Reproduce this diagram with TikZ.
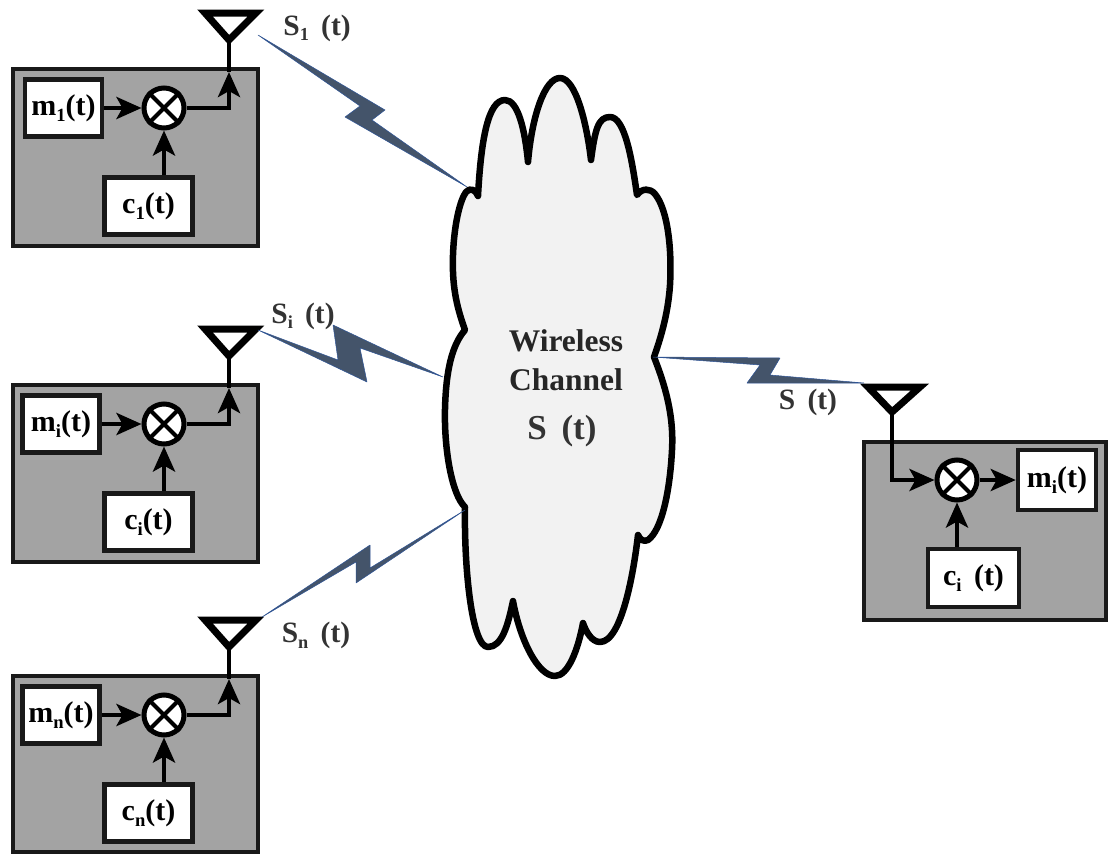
\documentclass[tikz,border=0pt]{standalone}
\usepackage{graphicx}
\usepackage{fontspec}
\setmainfont{Liberation Serif}
\usetikzlibrary{arrows.meta}
\definecolor{panel}{HTML}{A3A3A3}
\definecolor{cloudfill}{HTML}{F2F2F2}
\definecolor{bolt}{HTML}{44546A}
\definecolor{boltedge}{HTML}{2F5597}
\newcommand{\lowidx}[1]{\raisebox{-.2em}{\scalebox{.62}{#1}}}
\newcommand{\txt}{\fontsize{30}{32}\selectfont\bfseries}
\newcommand{\lbl}{\fontsize{29.5}{32}\selectfont\bfseries}
\tikzset{
  panelbox/.style={draw=black!90,line width=4.5pt,fill=panel},
  whitebox/.style={draw=black!90,line width=4.5pt,fill=white,inner sep=0pt,font=\txt},
  mixer/.style={circle,draw=black,line width=5pt,fill=white,minimum size=40pt,inner sep=0pt},
  wire/.style={draw=black,line width=4.5pt},
  arrowwire/.style={wire,-{Stealth[length=25pt,width=22pt,inset=6pt]}},
  antenna/.style={draw=black,line width=7pt,line join=miter,fill=white},
  boltshape/.style={fill=bolt,draw=boltedge,line width=.5pt,line join=round},
  cloudshape/.style={draw=black,line width=6.5pt,fill=cloudfill,line join=round},
  tag/.style={font=\lbl,inner sep=0pt,text=black!80}
}
\newcommand{\txblock}[6]{% prefix, dy, mleft, mlabel, clabel, height
\begin{scope}[shift={(0,#2)}]
  \draw[panelbox] (13,69) rectangle (258,#6);
  \node[whitebox,minimum width=77pt,minimum height=57pt] (#1m) at (#3,108) {#4};
  \node[whitebox,minimum width=88pt,minimum height=57pt] (#1c) at (148.5,206) {#5};
  \node[mixer] (#1x) at (164,108) {};
  \draw[line width=4pt] (#1x.45) -- (#1x.225) (#1x.135) -- (#1x.315);
  \coordinate (#1tip) at (229,72);
  \coordinate (#1apex) at (229,40);
  \coordinate (#1l) at (205,13);
  \coordinate (#1r) at (256,13);
  \draw[arrowwire] (#1m.east) -- (#1x.west);
  \draw[arrowwire] (#1c.north -| #1x) -- (#1x.south);
  \draw[arrowwire] (#1x.east) -| (#1tip);
  \draw[wire] (#1tip) -- (#1apex);
  \draw[antenna] (#1l) -- (#1r) -- (#1apex) -- cycle;
  \coordinate (#1out) at (258,35);
\end{scope}}
\begin{document}
\begin{tikzpicture}[x=1pt,y=-1pt]
\useasboundingbox (0,0) rectangle (1109,854);
\fill[white] (0,0) rectangle (1109,854);

% cloud
\draw[cloudshape]
  (478,196)
  .. controls (481,140) and (488,100) .. (505,100)
  .. controls (518,100) and (525,130) .. (528,162)
  .. controls (532,115) and (545,78) .. (560,78)
  .. controls (576,78) and (587,125) .. (591,160)
  .. controls (595,130) and (598,117) .. (610,117)
  .. controls (625,117) and (632,160) .. (637,195)
  .. controls (642,188) and (650,188) .. (655,194)
  .. controls (668,210) and (672,250) .. (670,285)
  .. controls (668,315) and (660,340) .. (654,357)
  .. controls (665,385) and (674,415) .. (672,450)
  .. controls (670,490) and (662,530) .. (648,540)
  .. controls (644,542) and (640,540) .. (638,535)
  .. controls (634,570) and (622,642) .. (600,642)
  .. controls (592,642) and (586,632) .. (583,623)
  .. controls (578,650) and (568,676) .. (555,676)
  .. controls (538,676) and (520,640) .. (513,601)
  .. controls (508,625) and (502,647) .. (488,647)
  .. controls (472,647) and (464,570) .. (465,507)
  .. controls (452,495) and (444,450) .. (445,409)
  .. controls (446,370) and (452,345) .. (465,330)
  .. controls (456,305) and (452,285) .. (453,255)
  .. controls (454,225) and (460,200) .. (466,192)
  .. controls (470,187) and (476,190) .. (478,196)
  -- cycle;
\node[inner sep=0pt,font=\fontsize{31.5}{33}\selectfont\bfseries,text=black!85] (wl) at (566,341) {Wireless};
\node[inner sep=0pt,font=\fontsize{31.5}{33}\selectfont\bfseries,text=black!85] (ch) at (566,380) {Channel};
\node[inner sep=0pt,font=\fontsize{35}{37}\selectfont\bfseries,text=black!80] (st) at (562,431) {S\, (t)};
\coordinate (cl1) at (467,187);
\coordinate (cl2) at (443,377);
\coordinate (cl3) at (465,510);
\coordinate (cl4) at (653,357);

% transmitters
\txblock{a}{0}{63.5}{m\lowidx{1}(t)}{c\lowidx{1}(t)}{246}
\txblock{b}{316}{61}{m\lowidx{i}(t)}{c\lowidx{i}(t)}{246}
\txblock{d}{607}{61}{m\lowidx{n}(t)}{c\lowidx{n}(t)}{245}

% receiver
\draw[panelbox] (864,442) rectangle (1106,620);
\node[whitebox,minimum width=78pt,minimum height=60pt] (rm) at (1057,480) {m\lowidx{i}(t)};
\node[whitebox,minimum width=91pt,minimum height=58pt] (rc) at (973.5,578) {c\lowidx{i}\, (t)};
\node[mixer] (rx) at (957,480) {};
\draw[line width=4pt] (rx.45) -- (rx.225) (rx.135) -- (rx.315);
\coordinate (rapex) at (892,412);
\coordinate (rl) at (868,387);
\coordinate (rr) at (920,387);
\coordinate (rout) at (864,383);
\draw[arrowwire] (rapex) |- (rx.west);
\draw[arrowwire] (rx.east) -- (rm.west);
\draw[arrowwire] (rc.north -| rx) -- (rx.south);
\draw[antenna] (rl) -- (rr) -- (rapex) -- cycle;

% radio links
\draw[boltshape] (aout) -- (385,110) -- (372,120) -- (cl1) -- (345,117) -- (360,106) -- cycle;
\draw[boltshape] (bout) ++(0,-21) -- (338,360) -- (333,325) -- (cl2) -- (360,348) -- (367,382) -- cycle;
\coordinate (dtip) at (262,617);
\draw[boltshape] (dtip) -- (370,545) -- (370,568) -- (cl3) -- (356,583) -- (356,562) -- cycle;
\draw[boltshape] (cl4) -- (780,358) -- (770,375) -- (rout) -- (747,383) -- (760,365) -- cycle;

% link labels
\node[tag] (s1) at (317,28) {S\lowidx{1}\, (t)};
\node[tag] (si) at (303,316) {S\lowidx{i}\, (t)};
\node[tag] (sn) at (316,635) {S\lowidx{n}\, (t)};
\node[tag] (so) at (808,402) {S\, (t)};
\end{tikzpicture}
\end{document}
